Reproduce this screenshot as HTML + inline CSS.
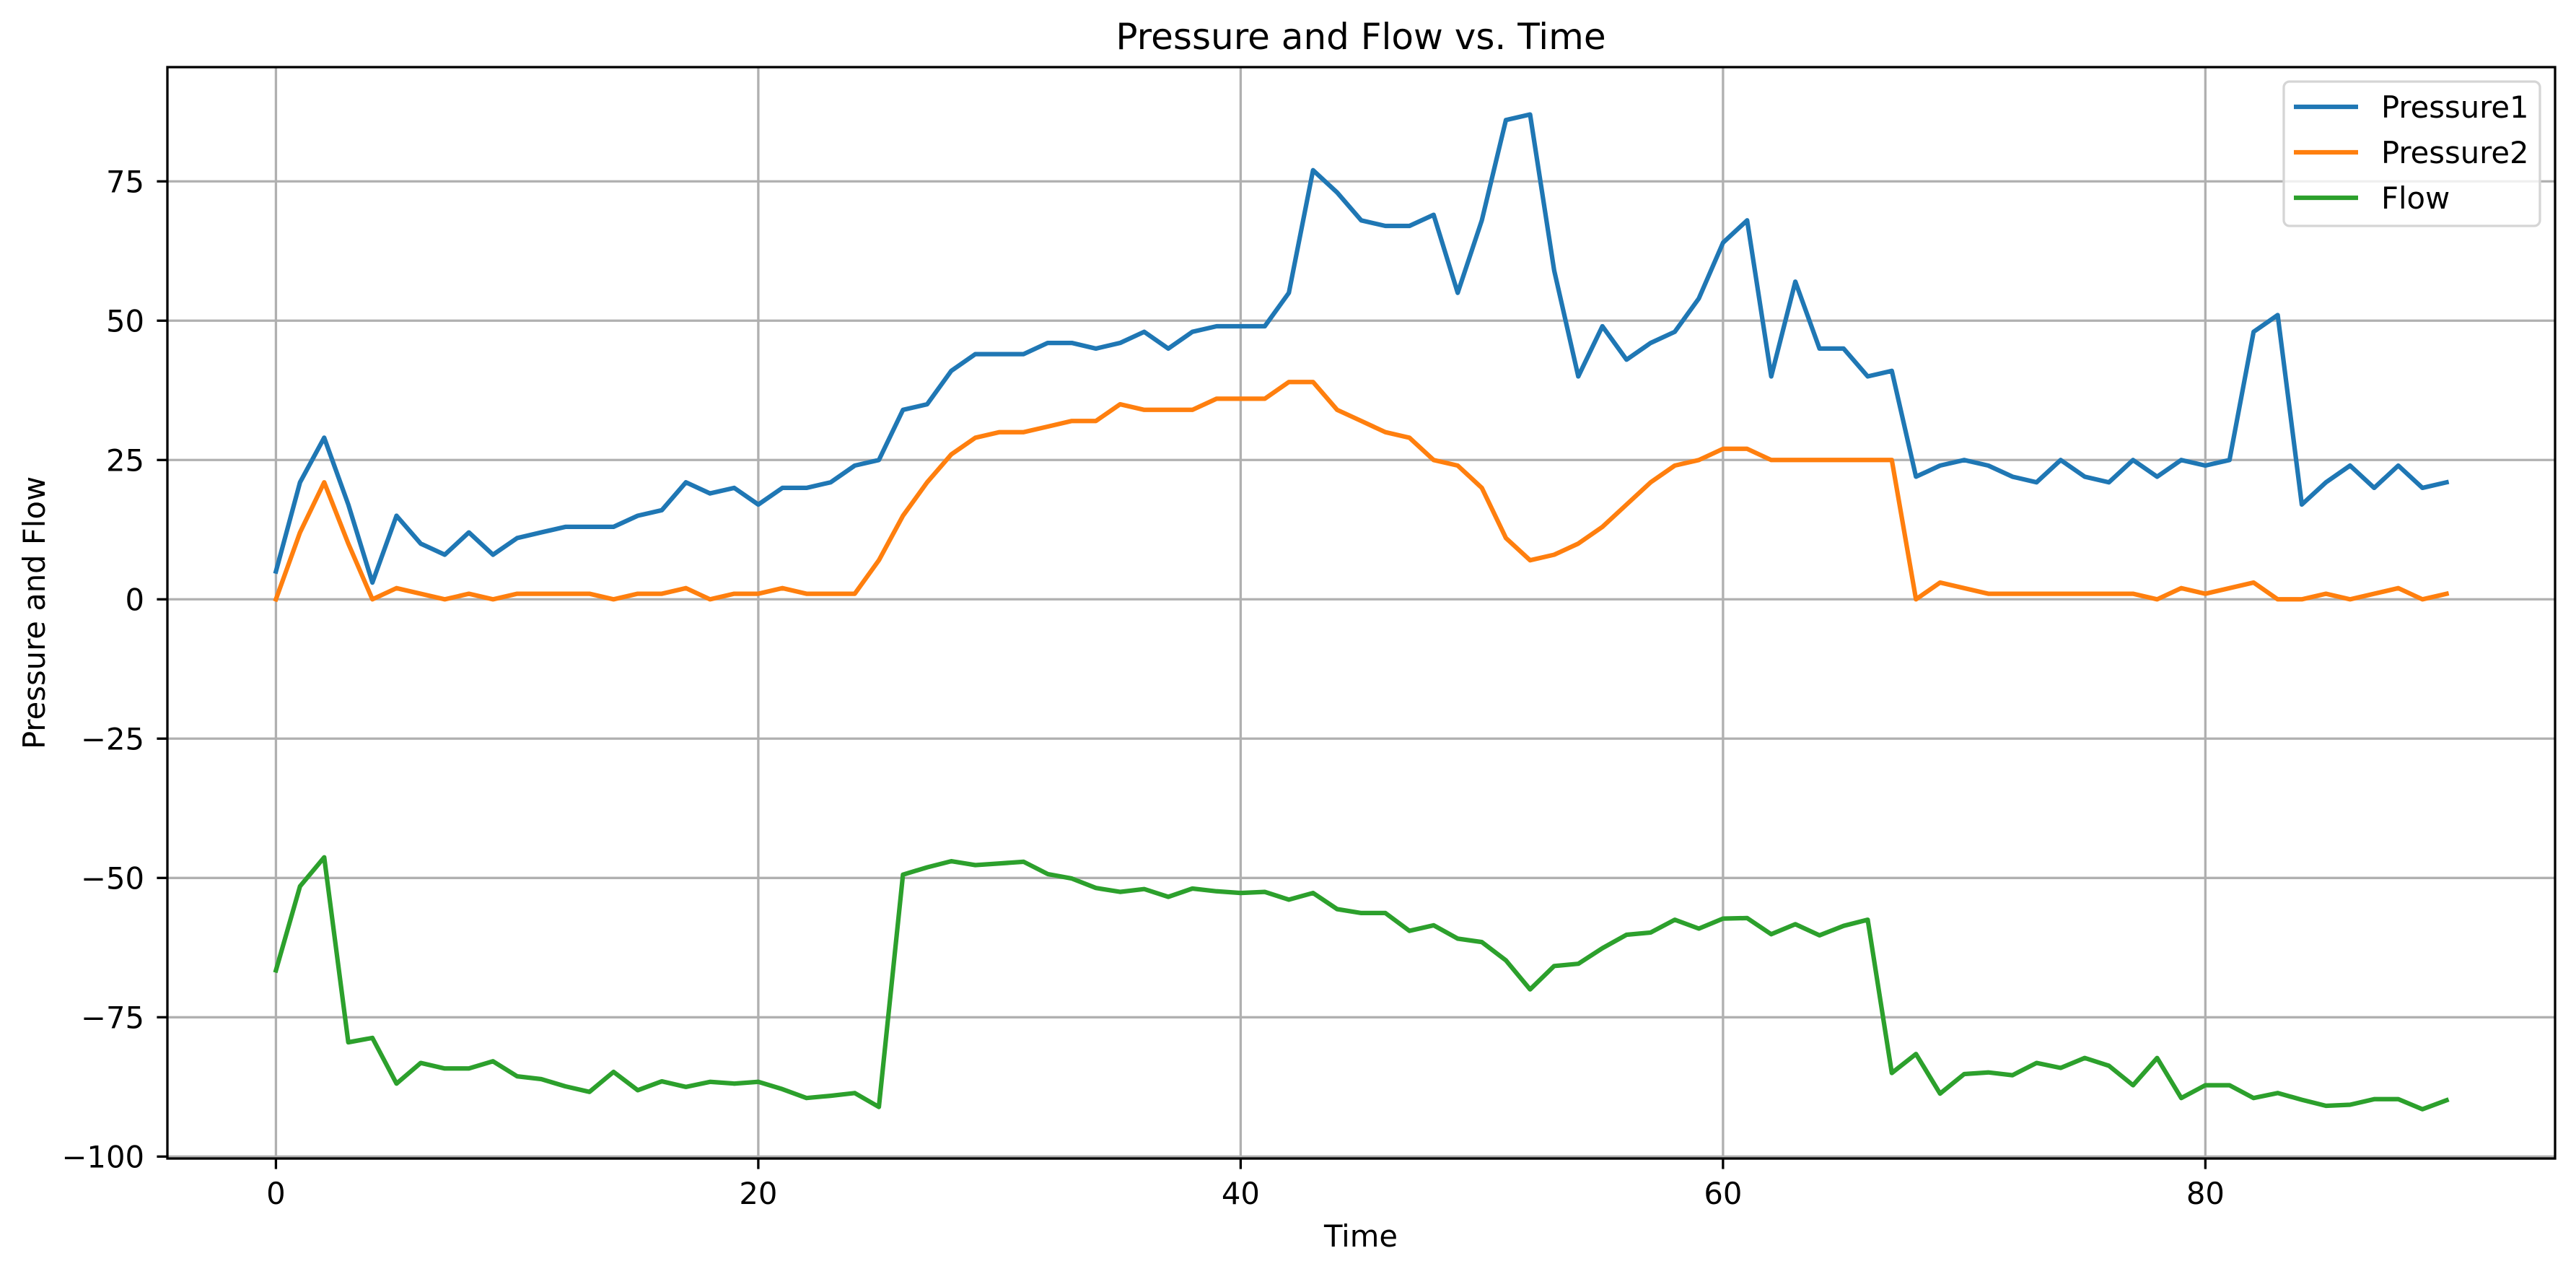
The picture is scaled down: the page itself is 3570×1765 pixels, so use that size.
<!DOCTYPE html>
<html><head><meta charset="utf-8"><style>
html,body{margin:0;padding:0;background:#fff;}
svg{display:block;font-family:"DejaVu Sans","Liberation Sans",sans-serif;}
</style></head><body>
<svg id="chart" width="3570" height="1765" viewBox="0 0 3570 1765" xmlns="http://www.w3.org/2000/svg">
<rect x="0" y="0" width="3570" height="1765" fill="#fff"/>
<g id="grid"></g>
<g id="series"></g>
<rect x="232" y="93" width="3309" height="1512" fill="none" stroke="#000" stroke-width="3.3"/>
<g id="ticks"></g>
<text x="1886" y="68" font-size="50" text-anchor="middle">Pressure and Flow vs. Time</text>
<text x="1886" y="1727" font-size="41.7" text-anchor="middle">Time</text>
<text x="62" y="849" font-size="41.7" text-anchor="middle" transform="rotate(-90 62 849)">Pressure and Flow</text>
<g id="legend">
<rect x="3165" y="113" width="355" height="200" rx="8" fill="#fff" fill-opacity="0.8" stroke="#d5d5d5" stroke-width="3.3"/>
</g>
</svg>
<script>
const time = [];
for (let i = 0; i <= 90; i++) time.push(i);
const pressure1 = [5,21,29,17,3,15,10,8,12,8,11,12,13,13,13,15,16,21,19,20,17,20,20,21,24,25,34,35,41,44,44,44,46,46,45,46,48,45,48,49,49,49,55,77,73,68,67,67,69,55,68,86,87,59,40,49,43,46,48,54,64,68,40,57,45,45,40,41,22,24,25,24,22,21,25,22,21,25,22,25,24,25,48,51,17,21,24,20,24,20,21];
const pressure2 = [0,12,21,10,0,2,1,0,1,0,1,1,1,1,0,1,1,2,0,1,1,2,1,1,1,7,15,21,26,29,30,30,31,32,32,35,34,34,34,36,36,36,39,39,34,32,30,29,25,24,20,11,7,8,10,13,17,21,24,25,27,27,25,25,25,25,25,25,0,3,2,1,1,1,1,1,1,1,0,2,1,2,3,0,0,1,0,1,2,0,1];
const flow = [-66.6,-51.5,-46.3,-79.5,-78.7,-86.9,-83.2,-84.2,-84.2,-82.9,-85.6,-86.1,-87.4,-88.4,-84.8,-88.1,-86.5,-87.5,-86.6,-86.9,-86.6,-87.9,-89.5,-89.1,-88.6,-91.1,-49.4,-48.1,-47.0,-47.7,-47.4,-47.1,-49.3,-50.1,-51.8,-52.5,-52.0,-53.4,-51.9,-52.4,-52.7,-52.5,-53.9,-52.7,-55.6,-56.3,-56.3,-59.5,-58.5,-60.9,-61.5,-64.8,-70.0,-65.8,-65.4,-62.6,-60.2,-59.8,-57.5,-59.1,-57.3,-57.2,-60.1,-58.3,-60.3,-58.6,-57.5,-85.0,-81.6,-88.7,-85.2,-84.9,-85.4,-83.2,-84.1,-82.3,-83.7,-87.2,-82.3,-89.5,-87.2,-87.2,-89.5,-88.6,-89.8,-90.9,-90.7,-89.7,-89.7,-91.5,-89.9];
const xTicks = [0,20,40,60,80];
const yTicks = [-100,-75,-50,-25,0,25,50,75];
const seriesNames = ["Pressure1","Pressure2","Flow"];
const seriesColors = ["#1f77b4","#ff7f0e","#2ca02c"];

const NS = "http://www.w3.org/2000/svg";
const L = 232, R = 3541, T = 93, B = 1605;
const xMin = -4.5, xMax = 94.5, yMin = -100.35, yMax = 95.5;
function xs(v){ return L + (v - xMin) / (xMax - xMin) * (R - L); }
function ys(v){ return B - (v - yMin) / (yMax - yMin) * (B - T); }
function mk(tag, attrs, parent){ const e = document.createElementNS(NS, tag); for (const k in attrs) e.setAttribute(k, attrs[k]); parent.appendChild(e); return e; }

const grid = document.getElementById('grid');
const ticks = document.getElementById('ticks');
xTicks.forEach(v => {
  const x = xs(v);
  const g = mk('line', {x1:x, x2:x, y1:T, y2:B, stroke:'#b0b0b0', 'stroke-width':3.3}, grid);
  
  
  const t = mk('line', {x1:x, x2:x, y1:B, y2:B+14.6, stroke:'#000', 'stroke-width':3.3}, ticks);
  
  
  const lb = mk('text', {x:x, y:1668, 'font-size':41.7, 'text-anchor':'middle'}, ticks);
  lb.textContent = String(v);
  
  
});
yTicks.forEach(v => {
  const y = ys(v);
  const g = mk('line', {x1:L, x2:R, y1:y, y2:y, stroke:'#b0b0b0', 'stroke-width':3.3}, grid);
  
  
  const t = mk('line', {x1:L-14.6, x2:L, y1:y, y2:y, stroke:'#000', 'stroke-width':3.3}, ticks);
  
  
  const lb = mk('text', {x:200, y:y+15, 'font-size':41.7, 'text-anchor':'end'}, ticks);
  lb.textContent = v < 0 ? '\u2212' + Math.abs(v) : String(v);
  
  
});

const seriesG = document.getElementById('series');
[pressure1, pressure2, flow].forEach((arr, i) => {
  const pts = arr.map((v, j) => xs(time[j]).toFixed(1) + ',' + ys(v).toFixed(1)).join(' ');
  const p = mk('polyline', {points:pts, fill:'none', stroke:seriesColors[i], 'stroke-width':6.25, 'stroke-linejoin':'round', 'stroke-linecap':'square'}, seriesG);
  
  
});

const legend = document.getElementById('legend');
seriesNames.forEach((n, i) => {
  const y = 148 + i * 63;
  const ln = mk('line', {x1:3179, x2:3268, y1:y, y2:y, stroke:seriesColors[i], 'stroke-width':6.25}, legend);
  
  
  const tx = mk('text', {x:3300, y:y+15, 'font-size':41.7}, legend);
  tx.textContent = n;
  
  
});
</script>
</body></html>
